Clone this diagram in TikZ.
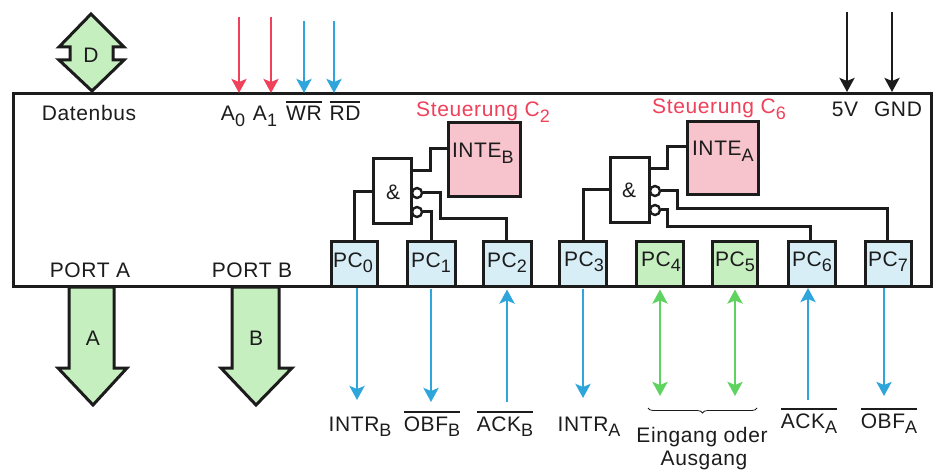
\documentclass[tikz,border=0pt]{standalone}
\usepackage{fontspec}
\setmainfont[LetterSpace=3]{Liberation Sans}
\usetikzlibrary{arrows.meta,decorations.pathreplacing}
\definecolor{ared}{HTML}{F0405A}
\definecolor{ablue}{HTML}{2EA6DC}
\definecolor{agreen}{HTML}{5FD35F}
\definecolor{fgreen}{HTML}{C6EFC0}
\definecolor{fpink}{HTML}{F7C3CC}
\definecolor{fblue}{HTML}{D7EEF7}
\definecolor{ink}{HTML}{1C1C1C}
\newcommand\subtxt[1]{\raisebox{-5.5pt}{\fontsize{18}{18}\selectfont #1}}
\newcommand\ovbar[1]{\vbox{\hrule height 1.6pt\kern 3.5pt\hbox{#1}}}
\tikzset{
  lbl/.style={anchor=base,inner sep=0pt,outer sep=0pt,text=ink,font=\fontsize{21}{23}\selectfont},
  redlbl/.style={lbl,text=ared},
  frame/.style={draw=ink,line width=3pt},
  wire/.style={draw=ink,line width=3pt},
  pcbox/.style={draw=ink,line width=3pt,fill=fblue},
  pcgreen/.style={pcbox,fill=fgreen},
  bubble/.style={circle,draw=ink,line width=2.4pt,fill=white,minimum size=10pt,inner sep=0pt},
  bigarrow/.style={draw=ink,line width=3pt,fill=fgreen,line join=miter},
  sig/.style={line width=2.8pt,-{Stealth[length=14pt,width=15pt,inset=3pt]}},
  sigup/.style={line width=2.8pt,{Stealth[length=14pt,width=15pt,inset=3pt]}-},
  sigboth/.style={line width=2.8pt,{Stealth[length=14pt,width=15pt,inset=3pt]}-{Stealth[length=14pt,width=15pt,inset=3pt]}},
}
\begin{document}
\begin{tikzpicture}[x=1pt,y=-1pt]
\useasboundingbox (0,0) rectangle (933,470);
% main frame
\path[frame,fill=white] (13,94) rectangle (931,286);
% bus arrows
\path[bigarrow] (91,14) -- (124,47) -- (113,47) -- (113,60) -- (124,60) -- (92,91) -- (59,60) -- (70,60) -- (70,47) -- (59,47) -- cycle;
\path[bigarrow] (69,287) -- (69,368) -- (58,368) -- (93,405) -- (127,368) -- (114,368) -- (114,287) -- cycle;
\path[bigarrow] (232,287) -- (232,368) -- (221,368) -- (256,405) -- (292,368) -- (279,368) -- (279,287) -- cycle;
\node[lbl] (dl) at (91,63) {D};
\node[lbl] (al) at (93,345) {A};
\node[lbl] (bl) at (256,345) {B};
% logic
\path[pcbox,fill=fpink] (448,123) rectangle (520,197);
\coordinate (inteb) at (448,149);
\path[pcbox,fill=fpink] (687,122) rectangle (758,195);
\coordinate (intea) at (687,147);
\path[wire,fill=white] (373,159) rectangle (411,224);
\path[wire,fill=white] (610,158) rectangle (649,223);
\node[lbl] (andb) at (393,200) {\&};
\node[lbl] (anda) at (629,198) {\&};
\node[lbl,anchor=base west] at (452,158) {INTE\subtxt{B}};
\node[lbl,anchor=base west] at (692,156) {INTE\subtxt{A}};
% PC boxes
\node[pcbox,minimum width=46pt,minimum height=45pt,inner sep=0pt] (pc0) at (354,263.5) {};
\node[pcbox,minimum width=48pt,minimum height=45pt,inner sep=0pt] (pc1) at (431,263.5) {};
\node[pcbox,minimum width=48pt,minimum height=45pt,inner sep=0pt] (pc2) at (507,263.5) {};
\node[pcbox,minimum width=47pt,minimum height=45pt,inner sep=0pt] (pc3) at (583,263.5) {};
\node[pcgreen,minimum width=47pt,minimum height=45pt,inner sep=0pt] (pc4) at (660,263.5) {};
\node[pcgreen,minimum width=45pt,minimum height=45pt,inner sep=0pt] (pc5) at (735,263.5) {};
\node[pcbox,minimum width=47pt,minimum height=45pt,inner sep=0pt] (pc6) at (811.5,263.5) {};
\node[pcbox,minimum width=46pt,minimum height=45pt,inner sep=0pt] (pc7) at (888,263.5) {};
\node[lbl] at (353,267) {PC\subtxt{0}};
\node[lbl] at (431,267) {PC\subtxt{1}};
\node[lbl] at (507,267) {PC\subtxt{2}};
\node[lbl] at (584,266) {PC\subtxt{3}};
\node[lbl] at (661,266) {PC\subtxt{4}};
\node[lbl] at (735,266) {PC\subtxt{5}};
\node[lbl] at (812,266) {PC\subtxt{6}};
\node[lbl] at (888,266) {PC\subtxt{7}};
% bubbles
\node[bubble] (bb1) at (417,193) {};
\node[bubble] (bb2) at (417,212) {};
\node[bubble] (ba1) at (655,191) {};
\node[bubble] (ba2) at (655,210) {};
% wires B
\draw[wire] (411,171) -- (430,171) -- (430,149) -- (inteb);
\draw[wire] (pc0.north) -- (354,192) -- (373,192);
\draw[wire] (bb1.east) -- (440,193) -- (440,219) -- (506,219) -- (506,241);
\draw[wire] (bb2.east) -- (431,212) -- (pc1.north);
% wires A
\draw[wire] (649,169) -- (667,169) -- (667,147) -- (intea);
\draw[wire] (pc3.north) -- (583,190) -- (610,190);
\draw[wire] (ba1.east) -- (677,191) -- (677,209) -- (887,209) -- (887,241);
\draw[wire] (ba2.east) -- (667,210) -- (667,227) -- (810,227) -- (810,241);
% top signals
\coordinate (a0t) at (239,17); \coordinate (a0b) at (239,93);
\coordinate (a1t) at (271,17); \coordinate (a1b) at (271,93);
\coordinate (wrt) at (304,21); \coordinate (wrb) at (304,93);
\coordinate (rdt) at (334,21); \coordinate (rdb) at (334,93);
\coordinate (vt) at (847,12); \coordinate (vb) at (847,92);
\coordinate (gt) at (892,12); \coordinate (gb) at (892,92);
\draw[sig,ared] (a0t) -- (a0b);
\draw[sig,ared] (a1t) -- (a1b);
\draw[sig,ablue] (wrt) -- (wrb);
\draw[sig,ablue] (rdt) -- (rdb);
\draw[sig,ink] (vt) -- (vb);
\draw[sig,ink] (gt) -- (gb);
% bottom signals
\coordinate (e0) at (357,400); \coordinate (e1) at (431,402); \coordinate (e2) at (507,402);
\coordinate (e3) at (583,398); \coordinate (e4) at (660,396); \coordinate (e5) at (735,396);
\coordinate (e6) at (808,400); \coordinate (e7) at (884,396);
\draw[sig,ablue] (357,288) -- (e0);
\draw[sig,ablue] (pc1.south) ++(0,1) -- (e1);
\draw[sigup,ablue] (pc2.south) ++(0,2) -- (e2);
\draw[sig,ablue] (pc3.south) ++(0,1) -- (e3);
\draw[sigboth,agreen] (pc4.south) ++(0,2) -- (e4);
\draw[sigboth,agreen] (pc5.south) ++(0,2) -- (e5);
\draw[sigup,ablue] (808,288) -- (e6);
\draw[sig,ablue] (884,288) -- (e7);
% labels
\node[lbl] at (89,121) {Datenbus};
\node[lbl] at (233,121) {A\subtxt{0}};
\node[lbl] at (265,121) {A\subtxt{1}};
\node[lbl] at (304,121) {\ovbar{WR}};
\node[lbl] at (345,121) {\ovbar{RD}};
\node[lbl] at (845,117) {5V};
\node[lbl] at (898,117) {GND};
\node[lbl] at (90,277) {PORT A};
\node[lbl] at (252,277) {PORT B};
\node[redlbl] at (483,117) {Steuerung C\subtxt{2}};
\node[redlbl] at (719,114) {Steuerung C\subtxt{6}};
\node[lbl] at (360,431) {INTR\subtxt{B}};
\node[lbl] at (432,431) {\ovbar{OBF\subtxt{B}}};
\node[lbl] at (505,431) {\ovbar{ACK\subtxt{B}}};
\node[lbl] at (589,431) {INTR\subtxt{A}};
\node[lbl] at (809,428) {\ovbar{ACK\subtxt{A}}};
\node[lbl] at (889,428) {\ovbar{OBF\subtxt{A}}};
\node[lbl] at (702,442) {Eingang oder};
\node[lbl] at (704,465) {Ausgang};
\coordinate (brl) at (648,408); \coordinate (brr) at (757,408);
\draw[ink,line width=.8pt,decorate,decoration={brace,mirror,amplitude=5pt}] (brl) -- (brr);
\end{tikzpicture}
\end{document}
